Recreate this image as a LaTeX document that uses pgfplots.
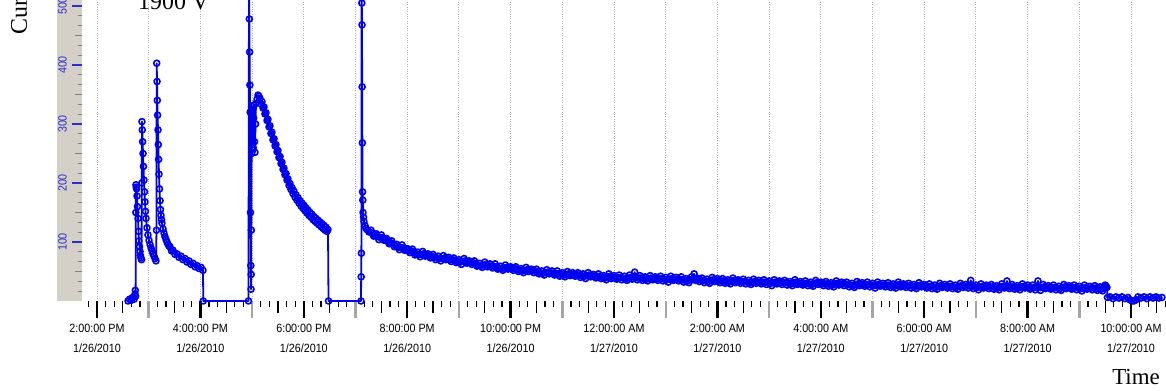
\documentclass[border=0pt]{standalone}
\usepackage{fontspec}
\setmainfont{Liberation Serif}
\newfontfamily\tickfont[FakeStretch=0.9]{Liberation Sans}
\usepackage{pgfplots}
\pgfplotsset{compat=1.18}
\definecolor{band}{RGB}{212,208,200}
\definecolor{gridc}{RGB}{175,175,175}
\definecolor{oddtick}{RGB}{165,165,165}
\definecolor{ylab}{RGB}{45,45,205}
\definecolor{ymin}{RGB}{30,30,110}
\definecolor{ser}{RGB}{0,0,240}
\pgfplotsset{base/.style={scale only axis, width=1084bp, height=301bp,
  xmin=13.7099, xmax=34.677, ymin=0, ymax=510.17,
  axis line style={draw=none}, tick align=outside, tick pos=left, clip=false}}
\begin{document}
\begin{tikzpicture}
\fill[band] (-25bp,0) rectangle (0,320bp);
\begin{axis}[base,
  xtick={14,16,...,34},
  xticklabels={{2:00:00 PM\\1/26/2010},{4:00:00 PM\\1/26/2010},{6:00:00 PM\\1/26/2010},{8:00:00 PM\\1/26/2010},{10:00:00 PM\\1/26/2010},{12:00:00 AM\\1/27/2010},{2:00:00 AM\\1/27/2010},{4:00:00 AM\\1/27/2010},{6:00:00 AM\\1/27/2010},{8:00:00 AM\\1/27/2010},{10:00:00 AM\\1/27/2010}},
  xticklabel style={font=\tickfont\fontsize{12}{20}\selectfont, align=center, anchor=north, inner sep=0pt, yshift=-6bp},
  major tick length=17bp, minor tick length=6bp,
  major tick style={line width=2.4bp, black},
  minor tick style={line width=1.2bp, black},
  minor xtick={13.83333,14,...,34.67},
  extra x ticks={15,17,...,33},
  extra x tick labels={},
  extra x tick style={grid=major, major tick style={draw=oddtick, line width=2.4bp}},
  xmajorgrids, grid style={dotted, gridc, line width=0.9bp},
  ytick=\empty,
]
\addplot[color=ser, line width=1.8bp, line join=round, mark=o, mark size=3bp, mark options={solid, line width=1.6bp}] coordinates {
(14.600,0)(14.629,3)(14.658,1)(14.687,6)(14.716,3)(14.735,12)(14.741,18)(14.747,8)
(14.751,150)(14.754,197)(14.760,193)(14.766,190)(14.774,178)(14.783,160)(14.793,140)(14.803,118)(14.812,102)(14.822,92)(14.832,84)(14.841,77)(14.851,73)(14.861,70)
(14.867,200)(14.870,304)(14.876,290)(14.882,270)(14.890,250)(14.899,228)(14.909,205)(14.919,185)(14.928,168)(14.938,152)(14.948,140)(14.967,124)(14.986,112)(15.006,103)(15.025,96)(15.045,90)(15.064,85)(15.083,80)(15.103,76)(15.122,72)(15.141,68)
(15.151,120)(15.155,403)(15.161,372)(15.166,340)(15.172,315)(15.180,290)(15.186,265)(15.192,240)(15.199,215)(15.209,190)(15.219,170)(15.228,155)(15.238,145)(15.248,138)(15.257,132)(15.277,122)(15.296,115)(15.315,109)(15.335,104)(15.354,100)(15.373,96)(15.393,93)
(15.412,92)(15.441,85)(15.470,86)(15.509,79)(15.547,80)(15.586,74)(15.625,76)(15.663,70)(15.702,72)(15.741,66)(15.779,68)(15.818,62)(15.857,64)(15.896,58)(15.934,60)(15.973,55)(16.012,57)(16.050,52)
(16.056,0)(16.930,0)
(16.940,540)(16.946,478)(16.952,422)(16.957,366)(16.963,320)(16.969,150)(16.975,60)(16.979,20)(16.982,45)(16.985,120)(16.991,250)(16.998,330)(17.006,290)(17.014,325)(17.021,260)(17.029,310)(17.037,332)(17.047,270)(17.056,252)(17.066,300)(17.075,335)(17.095,342)(17.114,349)(17.133,347)(17.153,343)(17.172,334)
(17.191,338)(17.211,327)(17.230,329)(17.249,317)(17.269,319)(17.288,306)(17.307,308)(17.327,295)(17.346,297)(17.365,284)(17.385,286)(17.404,273)(17.424,275)(17.443,263)(17.462,265)(17.482,253)(17.501,255)(17.520,243)(17.540,245)(17.559,233)(17.578,235)(17.598,223)(17.617,225)(17.636,214)(17.656,216)(17.675,205)(17.694,207)(17.714,196)(17.733,199)(17.752,189)(17.772,192)(17.791,182)(17.810,186)(17.830,176)(17.849,180)(17.868,171)(17.888,175)(17.907,166)(17.926,170)(17.946,161)(17.965,166)(17.984,157)(18.004,162)(18.023,153)(18.042,158)(18.062,149)(18.081,154)(18.100,145)(18.120,150)(18.139,142)(18.158,147)(18.178,138)(18.197,143)(18.216,135)(18.236,140)(18.255,132)(18.275,137)(18.294,129)(18.313,134)(18.333,126)(18.352,131)(18.371,123)(18.391,128)(18.410,120)(18.429,125)(18.449,118)(18.468,121)
(18.478,0)(19.106,0)
(19.110,41)(19.114,81)(19.118,540)(19.122,505)(19.126,468)(19.129,363)(19.133,268)(19.137,185)(19.141,171)(19.145,150)(19.155,142)(19.164,135)(19.184,128)(19.203,123)(19.232,120)(19.261,117)
(19.300,120)(19.325,115)(19.350,110)(19.375,112)(19.400,114)(19.425,109)(19.450,104)(19.475,108)(19.500,112)(19.525,107)(19.550,103)(19.575,104)(19.600,106)(19.625,101)(19.650,97)(19.675,99)(19.700,102)(19.725,97)(19.750,92)(19.775,94)(19.800,96)(19.825,91)(19.850,87)(19.875,91)(19.900,95)(19.925,90)(19.950,86)(19.975,87)(20.000,89)
(20.025,85)(20.050,82)(20.075,85)(20.100,88)(20.125,83)(20.150,78)(20.175,80)(20.200,83)(20.225,79)(20.250,75)(20.275,79)(20.300,84)(20.325,80)(20.350,76)(20.375,78)(20.400,80)(20.425,76)(20.450,73)(20.475,76)(20.500,79)(20.525,74)(20.550,70)(20.575,73)(20.600,76)(20.625,72)(20.650,68)(20.675,72)(20.700,77)(20.725,73)(20.750,70)(20.775,72)(20.800,74)(20.825,70)(20.850,67)(20.875,70)(20.900,73)(20.925,69)(20.950,65)(20.975,67)(21.000,70)
(21.025,66)(21.050,62)(21.075,67)(21.100,72)(21.125,68)(21.150,64)(21.175,66)(21.200,68)(21.225,65)(21.250,62)(21.275,65)(21.300,68)(21.325,63)(21.350,59)(21.375,61)(21.400,64)(21.425,60)(21.450,57)(21.475,61)(21.500,66)(21.525,62)(21.550,58)(21.575,60)(21.600,63)(21.625,59)(21.650,56)(21.675,59)(21.700,63)(21.725,58)(21.750,54)(21.775,56)(21.800,59)(21.825,55)(21.850,52)(21.875,56)(21.900,61)(21.925,57)(21.950,54)(21.975,56)(22.000,58)
(22.025,55)(22.050,52)(22.075,55)(22.100,58)(22.125,54)(22.150,50)(22.175,52)(22.200,55)(22.225,51)(22.250,48)(22.275,52)(22.300,57)(22.325,53)(22.350,50)(22.375,52)(22.400,54)(22.425,51)(22.450,48)(22.475,51)(22.500,54)(22.525,50)(22.550,46)(22.575,48)(22.600,51)(22.625,47)(22.650,44)(22.675,48)(22.700,53)(22.725,49)(22.750,46)(22.775,48)(22.800,51)(22.825,47)(22.850,44)(22.875,47)(22.900,51)(22.925,46)(22.950,42)(22.975,45)(23.000,48)
(23.025,44)(23.050,41)(23.075,45)(23.100,50)(23.125,46)(23.150,43)(23.175,45)(23.200,48)(23.225,45)(23.250,42)(23.275,45)(23.300,48)(23.325,44)(23.350,40)(23.375,43)(23.400,46)(23.425,42)(23.450,38)(23.475,43)(23.500,48)(23.525,44)(23.550,41)(23.575,43)(23.600,45)(23.625,42)(23.650,39)(23.675,42)(23.700,46)(23.725,42)(23.750,38)(23.775,40)(23.800,43)(23.825,39)(23.850,36)(23.875,41)(23.900,46)(23.925,42)(23.950,38)(23.975,40)(24.000,43)
(24.025,40)(24.050,37)(24.075,40)(24.100,44)(24.125,40)(24.150,36)(24.175,39)(24.200,42)(24.225,38)(24.250,35)(24.275,39)(24.300,44)(24.325,40)(24.350,37)(24.375,41)(24.400,49)(24.425,40)(24.450,36)(24.475,39)(24.500,43)(24.525,39)(24.550,35)(24.575,38)(24.600,41)(24.625,37)(24.650,34)(24.675,38)(24.700,43)(24.725,39)(24.750,36)(24.775,38)(24.800,41)(24.825,38)(24.850,35)(24.875,38)(24.900,42)(24.925,38)(24.950,34)(24.975,37)(25.000,40)
(25.025,36)(25.050,32)(25.075,37)(25.100,42)(25.125,38)(25.150,35)(25.175,37)(25.200,40)(25.225,37)(25.250,34)(25.275,37)(25.300,41)(25.325,36)(25.350,32)(25.375,35)(25.400,38)(25.425,34)(25.450,31)(25.475,36)(25.500,41)(25.525,37)(25.550,46)(25.575,35)(25.600,39)(25.625,36)(25.650,33)(25.675,36)(25.700,39)(25.725,35)(25.750,31)(25.775,34)(25.800,37)(25.825,33)(25.850,30)(25.875,35)(25.900,40)(25.925,36)(25.950,33)(25.975,35)(26.000,38)
(26.025,34)(26.050,31)(26.075,34)(26.100,38)(26.125,34)(26.150,30)(26.175,33)(26.200,36)(26.225,32)(26.250,29)(26.275,34)(26.300,39)(26.325,35)(26.350,31)(26.375,33)(26.400,36)(26.425,33)(26.450,30)(26.475,33)(26.500,37)(26.525,33)(26.550,29)(26.575,32)(26.600,35)(26.625,31)(26.650,28)(26.675,32)(26.700,37)(26.725,33)(26.750,30)(26.775,32)(26.800,35)(26.825,32)(26.850,29)(26.875,32)(26.900,36)(26.925,32)(26.950,28)(26.975,31)(27.000,34)
(27.025,30)(27.050,26)(27.075,31)(27.100,36)(27.125,32)(27.150,29)(27.175,31)(27.200,34)(27.225,31)(27.250,28)(27.275,31)(27.300,35)(27.325,31)(27.350,27)(27.375,30)(27.400,33)(27.425,29)(27.450,26)(27.475,31)(27.500,36)(27.525,32)(27.550,28)(27.575,30)(27.600,33)(27.625,30)(27.650,27)(27.675,30)(27.700,34)(27.725,30)(27.750,26)(27.775,29)(27.800,32)(27.825,28)(27.850,25)(27.875,30)(27.900,35)(27.925,31)(27.950,28)(27.975,30)(28.000,32)
(28.025,29)(28.050,26)(28.075,29)(28.100,33)(28.125,29)(28.150,25)(28.175,28)(28.200,31)(28.225,27)(28.250,24)(28.275,29)(28.300,34)(28.325,30)(28.350,27)(28.375,29)(28.400,32)(28.425,29)(28.450,26)(28.475,29)(28.500,32)(28.525,28)(28.550,24)(28.575,27)(28.600,30)(28.625,26)(28.650,23)(28.675,28)(28.700,33)(28.725,29)(28.750,26)(28.775,28)(28.800,31)(28.825,28)(28.850,25)(28.875,28)(28.900,32)(28.925,28)(28.950,24)(28.975,27)(29.000,30)
(29.025,26)(29.050,22)(29.075,27)(29.100,32)(29.125,28)(29.150,25)(29.175,27)(29.200,30)(29.225,27)(29.250,24)(29.275,27)(29.300,31)(29.325,27)(29.350,23)(29.375,26)(29.400,29)(29.425,25)(29.450,22)(29.475,27)(29.500,32)(29.525,28)(29.550,24)(29.575,26)(29.600,29)(29.625,26)(29.650,23)(29.675,26)(29.700,30)(29.725,26)(29.750,22)(29.775,25)(29.800,28)(29.825,24)(29.850,21)(29.875,26)(29.900,31)(29.925,27)(29.950,24)(29.975,26)(30.000,28)
(30.025,25)(30.050,22)(30.075,25)(30.100,29)(30.125,25)(30.150,21)(30.175,24)(30.200,27)(30.225,23)(30.250,20)(30.275,25)(30.300,30)(30.325,26)(30.350,23)(30.375,25)(30.400,28)(30.425,25)(30.450,22)(30.475,25)(30.500,29)(30.525,25)(30.550,21)(30.575,24)(30.600,27)(30.625,23)(30.650,20)(30.675,25)(30.700,30)(30.725,26)(30.750,23)(30.775,25)(30.800,28)(30.825,25)(30.850,22)(30.875,26)(30.900,35)(30.925,25)(30.950,21)(30.975,24)(31.000,27)
(31.025,23)(31.050,19)(31.075,24)(31.100,29)(31.125,25)(31.150,22)(31.175,24)(31.200,27)(31.225,24)(31.250,21)(31.275,24)(31.300,28)(31.325,24)(31.350,20)(31.375,23)(31.400,26)(31.425,22)(31.450,19)(31.475,24)(31.500,29)(31.525,25)(31.550,22)(31.575,24)(31.600,34)(31.625,24)(31.650,21)(31.675,24)(31.700,28)(31.725,24)(31.750,20)(31.775,23)(31.800,26)(31.825,22)(31.850,19)(31.875,24)(31.900,29)(31.925,25)(31.950,22)(31.975,24)(32.000,27)
(32.025,23)(32.050,20)(32.075,23)(32.100,27)(32.125,23)(32.150,19)(32.175,23)(32.200,34)(32.225,23)(32.250,18)(32.275,23)(32.300,28)(32.325,24)(32.350,21)(32.375,23)(32.400,26)(32.425,23)(32.450,20)(32.475,23)(32.500,27)(32.525,23)(32.550,19)(32.575,22)(32.600,25)(32.625,21)(32.650,18)(32.675,23)(32.700,28)(32.725,24)(32.750,21)(32.775,23)(32.800,26)(32.825,23)(32.850,20)(32.875,23)(32.900,27)(32.925,23)(32.950,19)(32.975,22)(33.000,25)
(33.025,21)(33.050,17)(33.075,22)(33.100,27)(33.125,23)(33.150,20)(33.175,22)(33.200,25)(33.225,22)(33.250,19)(33.275,22)(33.300,26)(33.325,22)(33.350,18)(33.375,21)(33.400,24)(33.425,20)(33.450,17)(33.475,22)(33.500,27)(33.518,25)(33.535,23)
(33.545,6)(33.593,7)(33.651,4)(33.709,7)(33.767,5)(33.825,7)(33.883,4)(33.941,6)(33.980,2)(34.019,0)(34.058,0)(34.096,2)(34.135,7)(34.193,5)(34.251,7)(34.309,4)(34.367,7)(34.425,5)(34.483,7)(34.541,5)(34.599,6)
};
\end{axis}
\begin{axis}[base,
  xtick={14.5,15.5,...,34.5}, xticklabels={},
  major tick length=12bp, major tick style={line width=1.2bp, black},
  ytick=\empty]
\end{axis}
\begin{axis}[base,
  xtick=\empty,
  ytick={100,200,300,400,500},
  yticklabels={100,200,300,400,500},
  yticklabel style={xshift=-5bp, rotate=90, anchor=south, inner sep=0pt, font=\tickfont\fontsize{12}{12}\selectfont, text=ylab},
  major tick length=10bp, major tick style={line width=2.2bp, ylab},
  minor ytick={16.6667,33.3333,...,510},
  minor tick length=4bp, minor tick style={line width=1.2bp, ymin}]
\end{axis}
\begin{axis}[base,
  xtick=\empty,
  ytick={50,150,...,450}, yticklabels={},
  major tick length=7bp, major tick style={line width=1.2bp, ymin}]
\end{axis}
\node[anchor=base west, font=\fontsize{24}{24}\selectfont, inner sep=0pt] at (56bp,291bp) {1900 V};
\node[anchor=base east, font=\fontsize{23}{23}\selectfont, inner sep=0pt] at (1078bp,-83bp) {Time};
\node[rotate=90, anchor=base west, font=\fontsize{24}{24}\selectfont, inner sep=0pt] at (-55bp,266bp) {Current (mA)};
\pgfresetboundingbox
\useasboundingbox (-82bp,-90bp) rectangle (1084bp,301bp);
\end{tikzpicture}
\end{document}
